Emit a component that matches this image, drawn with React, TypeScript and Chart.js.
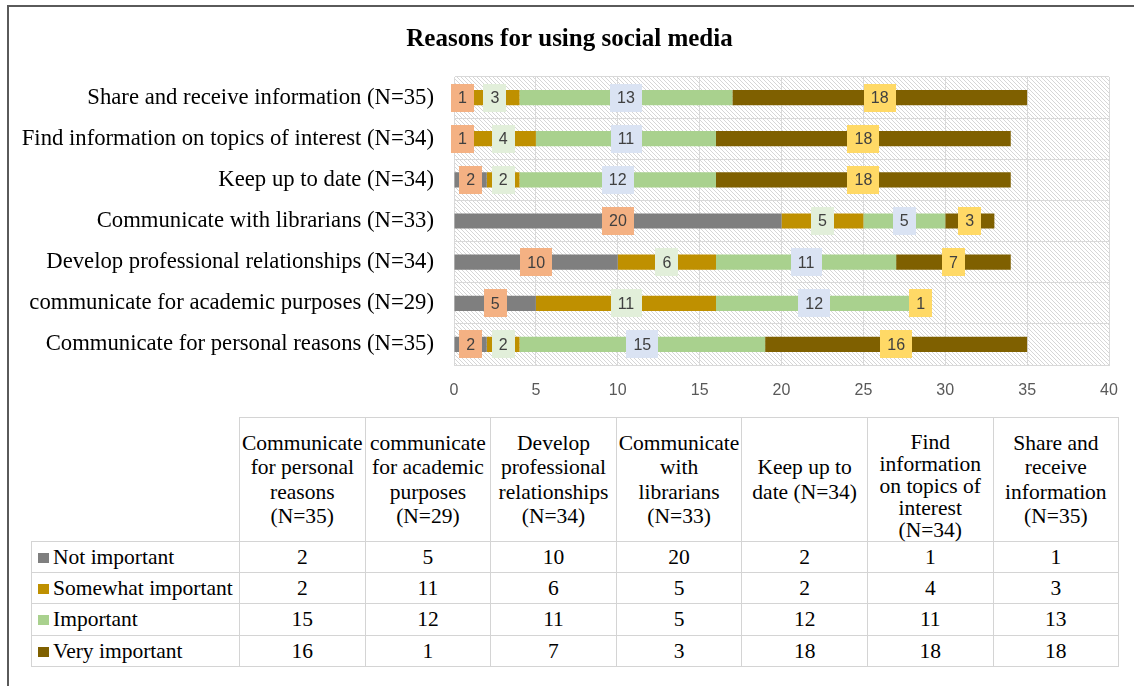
import React, { useEffect, useRef } from "react";
import { Chart, registerables } from "chart.js";

Chart.register(...registerables);

const chartTitle = "Reasons for using social media";

const categories = [
  "Communicate for personal reasons (N=35)",
  "communicate for academic purposes (N=29)",
  "Develop professional relationships (N=34)",
  "Communicate with librarians (N=33)",
  "Keep up to date (N=34)",
  "Find information on topics of interest (N=34)",
  "Share and receive information (N=35)",
];

const tableHeaders = [
  "Communicate\nfor personal\nreasons\n(N=35)",
  "communicate\nfor academic\npurposes\n(N=29)",
  "Develop\nprofessional\nrelationships\n(N=34)",
  "Communicate\nwith\nlibrarians\n(N=33)",
  "Keep up to\ndate (N=34)",
  "Find\ninformation\non topics of\ninterest\n(N=34)",
  "Share and\nreceive\ninformation\n(N=35)",
];

const seriesNames = ["Not important", "Somewhat important", "Important", "Very important"];

const notImportant = [2, 5, 10, 20, 2, 1, 1];
const somewhatImportant = [2, 11, 6, 5, 2, 4, 3];
const important = [15, 12, 11, 5, 12, 11, 13];
const veryImportant = [16, 1, 7, 3, 18, 18, 18];

const xMin = 0;
const xMax = 40;
const xStep = 5;

const seriesValues = [notImportant, somewhatImportant, important, veryImportant];
const barColors = ["#7f7f7f", "#bf9000", "#a9d18e", "#7f6000"];
const labelColors = ["#f4b183", "#e2efda", "#dae3f3", "#ffd966"];

const SERIF = '"Liberation Serif", "Times New Roman", serif';
const SANS = '"Liberation Sans", Arial, sans-serif';

function makePattern(): CanvasPattern | string {
  const s = 4;
  const c = document.createElement("canvas");
  c.width = s;
  c.height = s;
  const g = c.getContext("2d");
  if (!g) return "#f0f0f0";
  g.fillStyle = "#ffffff";
  g.fillRect(0, 0, s, s);
  g.strokeStyle = "#d6d6d6";
  g.lineWidth = 1;
  g.beginPath();
  g.moveTo(-1, -1);
  g.lineTo(s + 1, s + 1);
  g.moveTo(-1, s - 1);
  g.lineTo(1, s + 1);
  g.moveTo(s - 1, -1);
  g.lineTo(s + 1, 1);
  g.stroke();
  const p = g.createPattern(c, "repeat");
  return p || "#f0f0f0";
}

const hatchPlugin = {
  id: "hatchBg",
  beforeDraw(chart: any) {
    const { ctx, chartArea } = chart;
    if (!chartArea) return;
    ctx.save();
    ctx.fillStyle = makePattern();
    ctx.fillRect(chartArea.left, chartArea.top, chartArea.right - chartArea.left, chartArea.bottom - chartArea.top);
    ctx.restore();
  },
};

const titlePlugin = {
  id: "titleText",
  afterDraw(chart: any) {
    const { ctx } = chart;
    ctx.save();
    ctx.font = `bold 25px ${SERIF}`;
    ctx.fillStyle = "#000000";
    ctx.textAlign = "center";
    ctx.textBaseline = "alphabetic";
    ctx.fillText(chartTitle, 569.5, 46);
    ctx.restore();
  },
};

const labelPlugin = {
  id: "boxLabels",
  afterDatasetsDraw(chart: any) {
    const { ctx } = chart;
    ctx.save();
    ctx.font = `16px ${SANS}`;
    ctx.textAlign = "center";
    ctx.textBaseline = "middle";
    chart.data.datasets.forEach((ds: any, di: number) => {
      const meta = chart.getDatasetMeta(di);
      meta.data.forEach((bar: any, i: number) => {
        const v = ds.data[i];
        if (!v) return;
        const { x, y, base } = bar.getProps(["x", "y", "base"], true);
        const cx = (x + base) / 2;
        const text = String(v);
        const w = ctx.measureText(text).width + 14;
        const h = 28;
        ctx.fillStyle = labelColors[di];
        ctx.fillRect(Math.round(cx - w / 2), Math.round(y - h / 2), Math.round(w), h);
        ctx.fillStyle = "#404040";
        ctx.fillText(text, cx, y + 1);
      });
    });
    ctx.restore();
  },
};

function ChartCanvas() {
  const ref = useRef<HTMLCanvasElement | null>(null);
  useEffect(() => {
    if (!ref.current) return;
    const chart = new Chart(ref.current, {
      type: "bar",
      data: {
        labels: categories,
        datasets: seriesNames.map((name, i) => ({
          label: name,
          data: seriesValues[i],
          backgroundColor: barColors[i],
          borderWidth: 0,
          categoryPercentage: 1,
          barPercentage: 0.37,
        })),
      },
      options: {
        animation: false,
        responsive: true,
        maintainAspectRatio: false,
        indexAxis: "y",
        layout: { padding: { left: 0, right: 25, top: 77, bottom: 0 } },
        plugins: {
          legend: { display: false },
          tooltip: { enabled: false },
          title: { display: false },
        },
        scales: {
          x: {
            stacked: true,
            min: xMin,
            max: xMax,
            ticks: { stepSize: xStep, color: "#595959", font: { family: SANS, size: 16 }, padding: 16 },
            grid: { color: "#d9d9d9", drawTicks: false },
            border: { display: true, color: "#d9d9d9" },
            afterFit: (s: any) => {
              s.height = 45;
            },
          },
          y: {
            stacked: true,
            reverse: true,
            ticks: { color: "#000000", font: { family: SERIF, size: 22.7 }, padding: 20, autoSkip: false },
            grid: { color: "#d9d9d9", drawTicks: false, offset: true },
            border: { display: true, color: "#d9d9d9" },
            afterFit: (s: any) => {
              s.width = 454;
            },
          },
        },
      },
      plugins: [hatchPlugin, labelPlugin, titlePlugin],
    } as any);
    return () => chart.destroy();
  }, []);
  return <canvas ref={ref} />;
}

const cellBorder = "1px solid #d4d4d4";

export default function App() {
  return (
    <div style={{ position: "fixed", left: 0, top: 0, width: 1134, height: 686, background: "#ffffff", overflow: "hidden" }}>
      <div
        style={{
          position: "absolute",
          left: 7,
          top: 5,
          right: 0,
          bottom: 0,
          borderLeft: "2px solid #5a5a5a",
          borderTop: "2px solid #5a5a5a",
        }}
      />
      <div style={{ position: "absolute", left: 0, top: 0, width: 1134, height: 410 }}>
        <ChartCanvas />
      </div>
      <table
        style={{
          position: "absolute",
          left: 31,
          top: 417,
          borderCollapse: "collapse",
          tableLayout: "fixed",
          width: 208 + 7 * 125.6,
          fontFamily: SERIF,
          fontSize: 21.5,
          color: "#000",
        }}
      >
        <colgroup>
          <col style={{ width: 208 }} />
          {tableHeaders.map((_, i) => (
            <col key={i} style={{ width: 125.6 }} />
          ))}
        </colgroup>
        <thead>
          <tr style={{ height: 124 }}>
            <th style={{ border: "none", padding: 0 }} />
            {tableHeaders.map((h, i) => (
              <th
                key={i}
                style={{
                  border: cellBorder,
                  fontWeight: "normal",
                  whiteSpace: "pre-line",
                  lineHeight: h.split("\n").length > 4 ? "22px" : "24.5px",
                  padding: h.split("\n").length > 4 ? "12px 0 0 0" : 0,
                  textAlign: "center",
                  verticalAlign: "middle",
                }}
              >
                {h}
              </th>
            ))}
          </tr>
        </thead>
        <tbody>
          {seriesNames.map((name, si) => (
            <tr key={si} style={{ height: 31.2 }}>
              <td style={{ border: cellBorder, padding: "0 0 0 6px", whiteSpace: "nowrap", lineHeight: "24px" }}>
                <span
                  style={{
                    display: "inline-block",
                    width: 11,
                    height: 10,
                    background: barColors[si],
                    marginRight: 4,
                    verticalAlign: "1px",
                  }}
                />
                {name}
              </td>
              {seriesValues[si].map((v, ci) => (
                <td key={ci} style={{ border: cellBorder, padding: 0, textAlign: "center", lineHeight: "24px" }}>
                  {v}
                </td>
              ))}
            </tr>
          ))}
        </tbody>
      </table>
    </div>
  );
}
